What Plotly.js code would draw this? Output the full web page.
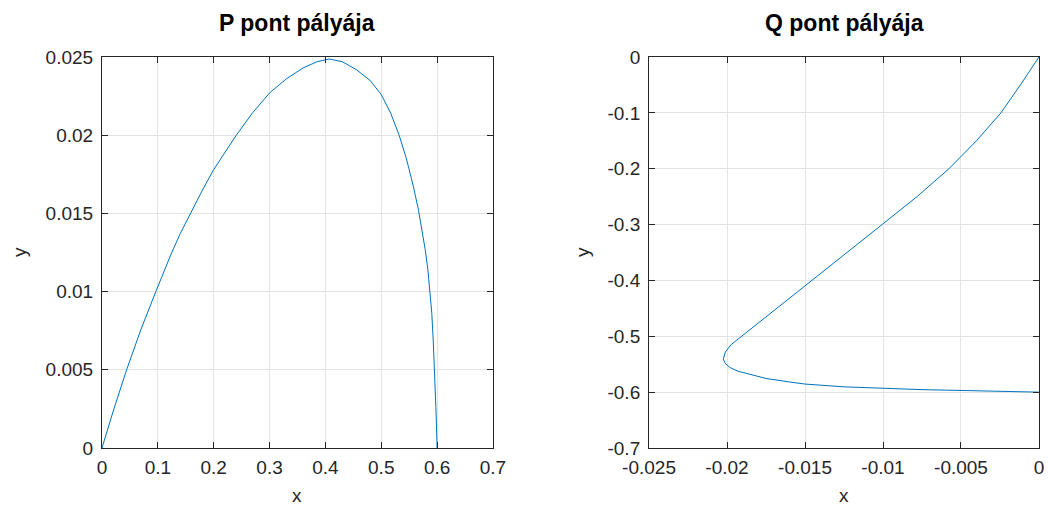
<!DOCTYPE html>
<html>
<head>
<meta charset="utf-8">
<script src="https://cdn.plot.ly/plotly-3.0.1.min.js"></script>
<style>
html,body{margin:0;padding:0;background:#fff;}
#chart{width:1048px;height:508px;}
</style>
</head>
<body>
<div id="chart"></div>
<script>
// P pont pályája
const pX = [0, 0.01, 0.0214, 0.0441, 0.07, 0.0964, 0.1226, 0.14, 0.158, 0.18, 0.2, 0.22, 0.2405, 0.27, 0.3, 0.33, 0.36, 0.385, 0.407, 0.43, 0.455, 0.48, 0.5, 0.517, 0.532, 0.545, 0.557, 0.5667, 0.5735, 0.5786, 0.5835, 0.587, 0.5905, 0.593, 0.5952, 0.5978, 0.6];
const pY = [0, 0.0012, 0.0025, 0.005, 0.0076, 0.01, 0.0123, 0.0137, 0.015, 0.0165, 0.0178, 0.0189, 0.02, 0.02145, 0.0227, 0.0236, 0.0243, 0.0247, 0.02487, 0.0247, 0.0242, 0.0235, 0.0226, 0.0214, 0.02, 0.0185, 0.0168, 0.0152, 0.0139, 0.0127, 0.0114, 0.0102, 0.0086, 0.0069, 0.0051, 0.0026, 0];
// Q pont pályája
const qX = [0, -0.00119, -0.00244, -0.00401, -0.00577, -0.00782, -0.01006, -0.01231, -0.01458, -0.01686, -0.0182, -0.01913, -0.01974, -0.0201, -0.02024, -0.0201, -0.0198, -0.0193, -0.0186, -0.0175, -0.016, -0.015, -0.0125, -0.01, -0.0075, -0.005, -0.0025, 0];
const qY = [0, -0.05, -0.1, -0.15, -0.2, -0.25, -0.3, -0.35, -0.4, -0.45, -0.48, -0.5, -0.515, -0.528, -0.541, -0.549, -0.556, -0.5625, -0.568, -0.5755, -0.5818, -0.5855, -0.5905, -0.5935, -0.5955, -0.597, -0.5985, -0.6];

const titles = ["P pont pályája", "Q pont pályája"];
const xTicksP = [0, 0.1, 0.2, 0.3, 0.4, 0.5, 0.6, 0.7];
const yTicksP = [0, 0.005, 0.01, 0.015, 0.02, 0.025];
const xTicksQ = [-0.025, -0.02, -0.015, -0.01, -0.005, 0];
const yTicksQ = [-0.7, -0.6, -0.5, -0.4, -0.3, -0.2, -0.1, 0];

const lineColor = "#0072BD";
const textColor = "#262626";
const family = "Liberation Sans, Arial, sans-serif";
const font = {family: family, size: 19, color: textColor};

function axis(domain, range, ticks, anchor, standoff) {
  return {
    domain: domain, range: range, anchor: anchor,
    tickmode: "array", tickvals: ticks, ticktext: ticks.map(String),
    ticks: "inside", ticklen: 6, tickcolor: textColor, tickwidth: 1,
    showline: true, linecolor: textColor, linewidth: 1, mirror: "allticks",
    showgrid: true, gridcolor: "#e3e3e3", gridwidth: 1,
    zeroline: false, tickfont: font, fixedrange: true,
    ticklabelstandoff: standoff
  };
}

const data = [
  {x: pX, y: pY, xaxis: "x", yaxis: "y", type: "scatter", mode: "lines",
   line: {color: lineColor, width: 1}, hoverinfo: "skip"},
  {x: qX, y: qY, xaxis: "x2", yaxis: "y2", type: "scatter", mode: "lines",
   line: {color: lineColor, width: 1}, hoverinfo: "skip"}
];

const yDom = [0.1181, 0.8878];
const layout = {
  width: 1048, height: 508,
  margin: {l: 0, r: 0, t: 0, b: 0},
  paper_bgcolor: "#fff", plot_bgcolor: "#fff",
  showlegend: false,
  font: font,
  xaxis: axis([0.0973, 0.4704], [0, 0.7], xTicksP, "y", 2),
  yaxis: axis(yDom, [0, 0.025], yTicksP, "x", 4),
  xaxis2: axis([0.6193, 0.9914], [-0.025, 0], xTicksQ, "y2", 2),
  yaxis2: axis(yDom, [-0.7, 0], yTicksQ, "x2", 4),
  annotations: [
    {text: "<b>" + titles[0] + "</b>", xref: "paper", yref: "paper", x: (0.0973+0.4704)/2, y: 1 - 23/508, xanchor: "center", yanchor: "middle", showarrow: false, font: {family: family, size: 23, color: "#000"}},
    {text: "<b>" + titles[1] + "</b>", xref: "paper", yref: "paper", x: (0.6193+0.9914)/2, y: 1 - 23/508, xanchor: "center", yanchor: "middle", showarrow: false, font: {family: family, size: 23, color: "#000"}},
    {text: "x", xref: "paper", yref: "paper", x: (0.0973+0.4704)/2, y: 1 - 495/508, xanchor: "center", yanchor: "middle", showarrow: false, font: font},
    {text: "x", xref: "paper", yref: "paper", x: (0.6193+0.9914)/2, y: 1 - 495/508, xanchor: "center", yanchor: "middle", showarrow: false, font: font},
    {text: "y", xref: "paper", yref: "paper", x: 19/1048, y: 1 - 252/508, xanchor: "center", yanchor: "middle", textangle: -90, showarrow: false, font: font},
    {text: "y", xref: "paper", yref: "paper", x: 582/1048, y: 1 - 252/508, xanchor: "center", yanchor: "middle", textangle: -90, showarrow: false, font: font}
  ]
};

Plotly.newPlot("chart", data, layout, {displayModeBar: false, staticPlot: true});
</script>
</body>
</html>
